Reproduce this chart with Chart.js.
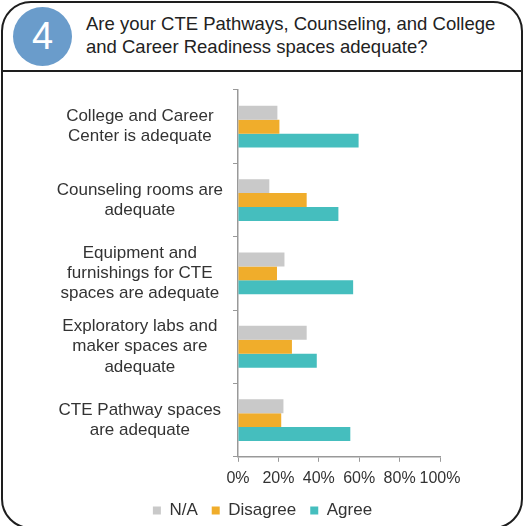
<!DOCTYPE html>
<html>
<head>
<meta charset="utf-8">
<script src="https://cdn.jsdelivr.net/npm/chart.js@4/dist/chart.umd.min.js"></script>
<style>
  html, body { margin:0; padding:0; background:#fff; overflow:hidden; }
  body { width:525px; height:526px; position:relative; font-family:"Liberation Sans", Arial, sans-serif; }
  .frame { position:absolute; left:1px; top:1px; width:518px; height:524px; border:2px solid #1e1e1e; border-radius:30px; }
  .rule { position:absolute; left:1px; top:70px; width:522px; height:2px; background:#1e1e1e; }
  .badge { position:absolute; left:13px; top:7px; width:59px; height:59px; border-radius:50%; background:#6a9ccb;
           color:#fff; font-size:38px; line-height:59px; text-align:center; font-weight:300; }
  .title { position:absolute; left:86px; top:12px; font-size:18.5px; line-height:23px; color:#222; }
  .wrap { position:absolute; left:0; top:76px; width:525px; height:457px; }
</style>
</head>
<body>
<div class="frame"></div>
<div class="rule"></div>
<div class="badge">4</div>
<div class="title">Are your CTE Pathways, Counseling, and College<br>and Career Readiness spaces adequate?</div>
<div class="wrap"><canvas id="chart" width="525" height="457"></canvas></div>

<script>
/* ===== dados ===== */
const categorias = [
  ['College and Career', 'Center is adequate'],
  ['Counseling rooms are', 'adequate'],
  ['Equipment and', 'furnishings for CTE', 'spaces are adequate'],
  ['Exploratory labs and', 'maker spaces are', 'adequate'],
  ['CTE Pathway spaces', 'are adequate']
];
const naValores       = [19.5, 15.5, 23, 34, 22.5];
const disagreeValores = [20.5, 34, 19.3, 26.7, 21.4];
const agreeValores    = [59.7, 49.7, 57, 39, 55.6];
const ticksX = [0, 20, 40, 60, 80, 100];

/* ===== chart ===== */
const txt = '#333';
const fonte = { family:'"Liberation Sans", Arial, sans-serif', size:16 };
const fonteY = { family:'"Liberation Sans", Arial, sans-serif', size:17, lineHeight:1.18 };

// centraliza a legenda na largura toda do canvas e sobe um pouco
const legendaCentro = {
  id: 'legendaCentro',
  afterLayout(chart) {
    const l = chart.legend;
    if (!l) return;
    l.left = 0; l.right = chart.width; l.width = chart.width;
    l.top -= 4; l.bottom -= 4;
  }
};

new Chart(document.getElementById('chart').getContext('2d'), {
  type: 'bar',
  data: {
    labels: categorias,
    datasets: [
      { label:'N/A',      data: naValores,       backgroundColor:'#c9c9c9' },
      { label:'Disagree', data: disagreeValores, backgroundColor:'#f0ad2b' },
      { label:'Agree',    data: agreeValores,    backgroundColor:'#45bebe' }
    ]
  },
  options: {
    indexAxis: 'y',
    responsive: false,
    animation: false,
    categoryPercentage: 0.57,
    barPercentage: 1.0,
    layout: { padding: { top:14, right:85, left:10, bottom:0 } },
    plugins: {
      tooltip: { enabled:false },
      legend: {
        position: 'bottom',
        labels: { color:txt, font:{ family:fonte.family, size:17 }, boxWidth:8, boxHeight:8, padding:14 }
      }
    },
    scales: {
      x: {
        min: 0, max: 100,
        afterBuildTicks: s => { s.ticks = ticksX.map(v => ({ value:v })); },
        ticks: { color:txt, font:fonte, padding:7, maxRotation:0, autoSkip:false, callback: v => v + '%' },
        grid: { display:true, drawOnChartArea:false, tickLength:5, color:'#999' },
        border: { color:'#999', width:1.5 },
        afterFit: s => { s.paddingLeft = 0; s.paddingRight = 0; s.height -= 3; }
      },
      y: {
        ticks: { color:txt, font:fonteY, crossAlign:'center', padding:10, autoSkip:false },
        grid: { display:true, drawOnChartArea:false, offset:true, tickLength:5, color:'#999' },
        border: { color:'#999', width:1.5 },
        afterFit: s => { s.width = 228; s.paddingTop = 0; s.paddingBottom = 0; }
      }
    }
  },
  plugins: [legendaCentro]
});
</script>
</body>
</html>
